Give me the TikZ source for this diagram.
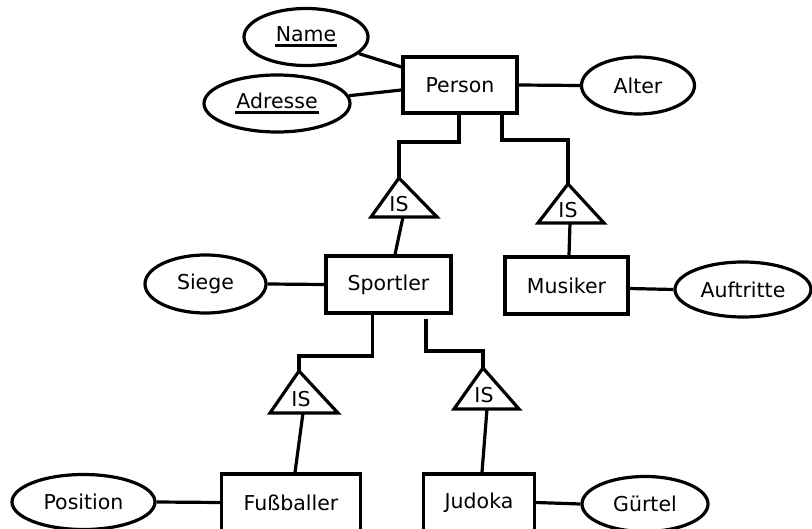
\documentclass[tikz,border=0pt]{standalone}
\usepackage{fontspec}
\setmainfont{DejaVu Sans}
\usetikzlibrary{shapes.geometric,calc}
\newcommand\ulx[1]{\setbox0\hbox{#1}\rlap{\kern-1pt\rule[-5pt]{\dimexpr\wd0+2pt\relax}{3pt}}\box0}
\tikzset{
  ent/.style={draw,line width=3.2pt,rectangle,inner sep=0pt,font=\fontsize{20.5}{24}\selectfont},
  att/.style={draw,line width=3.2pt,ellipse,inner sep=0pt,font=\fontsize{20.5}{24}\selectfont},
  istxt/.style={inner sep=0pt,font=\fontsize{20.5}{24}\selectfont},
  tri/.style={draw,line width=3.2pt,line join=miter},
  conn/.style={draw,line width=3.2pt},
}
\begin{document}
\begin{tikzpicture}[x=1pt,y=-1pt]
\useasboundingbox (0,0) rectangle (812,529);
% entities
\node[ent,minimum width=114pt,minimum height=56pt] (person) at (460,85) {Person};
\node[ent,minimum width=125pt,minimum height=57pt] (sportler) at (388.5,284.5) {Sportler};
\node[ent,minimum width=123pt,minimum height=57pt] (musiker) at (566.5,285.5) {Musiker};
\node[ent,minimum width=139pt,minimum height=57pt] (fuss) at (291,502.5) {Fußballer};
\node[ent,minimum width=111pt,minimum height=57pt] (judoka) at (479,502.5) {Judoka};
% attributes
\node[att,minimum width=124pt,minimum height=57pt] (name) at (306,37) {\ulx{Name}};
\node[att,minimum width=146pt,minimum height=57pt] (adresse) at (277,103.5) {\ulx{Adresse}};
\node[att,minimum width=113pt,minimum height=57pt] (alter) at (638,85.5) {Alter};
\node[att,minimum width=121pt,minimum height=58pt] (siege) at (205.5,284) {Siege};
\node[att,minimum width=136pt,minimum height=55pt] (auftritte) at (743,289.5) {Auftritte};
\node[att,minimum width=143pt,minimum height=55pt] (position) at (83.5,502) {Position};
\node[att,minimum width=126pt,minimum height=55pt] (guertel) at (645,504) {Gürtel};
% IS triangles
\draw[tri] (399,178) coordinate (t1a) -- (437,217) -- (371,217) -- cycle;
\coordinate (t1b) at (403,217);
\node[istxt] (is1) at (399,204) {IS};
\draw[tri] (568,184) coordinate (t2a) -- (604,223) -- (538,223) -- cycle;
\coordinate (t2b) at (570,223);
\node[istxt] (is2) at (568,210) {IS};
\draw[tri] (299,371) coordinate (t3a) -- (338,413) -- (270,413) -- cycle;
\coordinate (t3b) at (303,413);
\node[istxt] (is3) at (301,399) {IS};
\draw[tri] (483,368) coordinate (t4a) -- (519,409) -- (454,409) -- cycle;
\coordinate (t4b) at (487,409);
\node[istxt] (is4) at (484,395) {IS};
% attribute connectors
\draw[conn] (name) -- ($(person.west)+(0,-18)$);
\draw[conn] (adresse) -- ($(person.west)+(0,5)$);
\draw[conn] (person.east) -- (alter.west);
\draw[conn] (siege.east) -- (sportler.west);
\draw[conn] ($(musiker.east)+(0,3)$) -- (auftritte.west);
\draw[conn] (position.east) -- (fuss.west);
\draw[conn] (judoka.east) -- (guertel.west);
% hierarchy connectors
\coordinate (k1) at (399,142);
\coordinate (k2) at (568,140);
\coordinate (k3) at (299,356);
\coordinate (k4) at (483,351);
\coordinate (s2) at (426,319);
\draw[conn] ([xshift=-1pt]person.south) |- (k1) -- (t1a);
\draw[conn] ([xshift=42pt]person.south) |- (k2) -- (t2a);
\draw[conn] ([xshift=-16pt]sportler.south) |- (k3) -- (t3a);
\draw[conn] (s2) |- (k4) -- (t4a);
\draw[conn] (t1b) -- (sportler.north -| 395,0);
\draw[conn] (t2b) -- (musiker.north -| 569,0);
\draw[conn] (t3b) -- (fuss.north -| 295,0);
\draw[conn] (t4b) -- (judoka.north -| 482,0);
\end{tikzpicture}
\end{document}
